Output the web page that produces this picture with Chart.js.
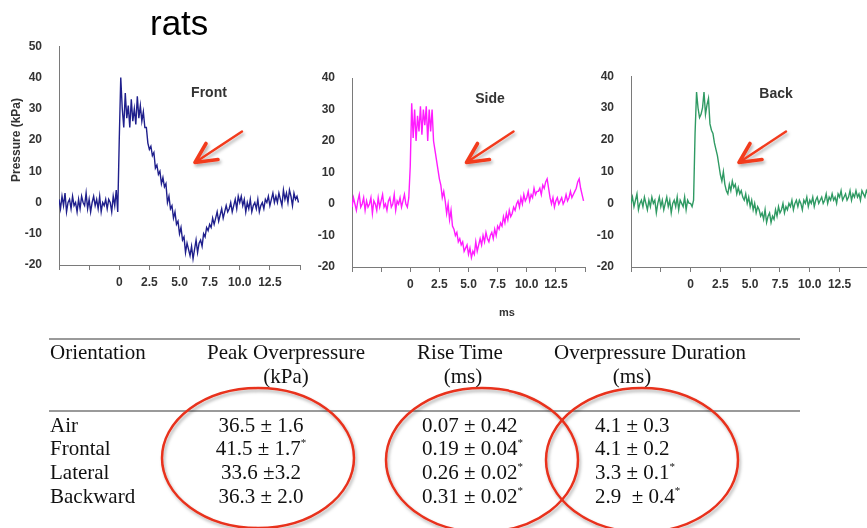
<!DOCTYPE html>
<html>
<head>
<meta charset="utf-8">
<title>rats</title>
<script src="https://cdn.jsdelivr.net/npm/chart.js@4.4.1/dist/chart.umd.min.js"></script>
<style>
  body { margin: 0; background: #fff; }
  #page { position: relative; width: 867px; height: 528px; overflow: hidden; background: #fff; }
  #page canvas { position: absolute; }
  #overlay { position: absolute; left: 0; top: 0; pointer-events: none; }
  #overlay text { white-space: pre; }
</style>
</head>
<body>
<div id="page">
  <canvas id="frontChart" width="310" height="280" style="left:0;top:30px"></canvas>
  <canvas id="sideChart" width="280" height="260" style="left:310px;top:60px"></canvas>
  <canvas id="backChart" width="277" height="240" style="left:590px;top:60px"></canvas>

  <svg id="overlay" width="867" height="528" xmlns="http://www.w3.org/2000/svg">
    <defs>
      <filter id="shade" x="-20%" y="-20%" width="140%" height="140%">
        <feDropShadow dx="1.5" dy="2.5" stdDeviation="1.6" flood-color="#000" flood-opacity="0.3"/>
      </filter>
    </defs>
    <text x="150" y="35" font-family="Liberation Sans, Arial, sans-serif" font-size="35" fill="#000">rats</text>
    <text transform="translate(20,140) rotate(-90)" text-anchor="middle" font-family="Liberation Sans, Arial, sans-serif" font-size="12" font-weight="bold" fill="#333">Pressure (kPa)</text>
    <g font-family="Liberation Sans, Arial, sans-serif" font-size="14" font-weight="bold" fill="#333" text-anchor="middle">
      <text x="209" y="97">Front</text>
      <text x="490" y="103">Side</text>
      <text x="776" y="98">Back</text>
    </g>
    <text x="507" y="316" text-anchor="middle" font-family="Liberation Sans, Arial, sans-serif" font-size="11" font-weight="bold" fill="#333">ms</text>
    <g id="arrows" fill="none" stroke="#f23a1d" stroke-linecap="round" stroke-linejoin="round" filter="url(#shade)"></g>
    <g id="table" font-family="Liberation Serif, Times New Roman, serif" font-size="21" fill="#111"></g>
    <g id="rings" fill="none" stroke="#e8301c" stroke-width="2.5" filter="url(#shade)"></g>
  </svg>
</div>

<script>
// sample times (ms) shared by the three pressure traces, 8 samples per ms
const timeMs = [
  -5, -4.875, -4.75, -4.625, -4.5, -4.375, -4.25, -4.125,
  -4, -3.875, -3.75, -3.625, -3.5, -3.375, -3.25, -3.125,
  -3, -2.875, -2.75, -2.625, -2.5, -2.375, -2.25, -2.125,
  -2, -1.875, -1.75, -1.625, -1.5, -1.375, -1.25, -1.125,
  -1, -0.875, -0.75, -0.625, -0.5, -0.375, -0.25, -0.125,
  0, 0.125, 0.25, 0.375, 0.5, 0.625, 0.75, 0.875,
  1, 1.125, 1.25, 1.375, 1.5, 1.625, 1.75, 1.875,
  2, 2.125, 2.25, 2.375, 2.5, 2.625, 2.75, 2.875,
  3, 3.125, 3.25, 3.375, 3.5, 3.625, 3.75, 3.875,
  4, 4.125, 4.25, 4.375, 4.5, 4.625, 4.75, 4.875,
  5, 5.125, 5.25, 5.375, 5.5, 5.625, 5.75, 5.875,
  6, 6.125, 6.25, 6.375, 6.5, 6.625, 6.75, 6.875,
  7, 7.125, 7.25, 7.375, 7.5, 7.625, 7.75, 7.875,
  8, 8.125, 8.25, 8.375, 8.5, 8.625, 8.75, 8.875,
  9, 9.125, 9.25, 9.375, 9.5, 9.625, 9.75, 9.875,
  10, 10.125, 10.25, 10.375, 10.5, 10.625, 10.75, 10.875,
  11, 11.125, 11.25, 11.375, 11.5, 11.625, 11.75, 11.875,
  12, 12.125, 12.25, 12.375, 12.5, 12.625, 12.75, 12.875,
  13, 13.125, 13.25, 13.375, 13.5, 13.625, 13.75, 13.875,
  14, 14.125, 14.25, 14.375, 14.5, 14.625, 14.75, 14.875];

// pressure (kPa), one row per ms
const frontKPa = [
  1, -2, 2, -1, 3, -3, 0, 1,
  -2, 2, -1, 0, -3, 1, -2, 2,
  0, -1, 3, -2, 1, -3, 0, 2,
  -1, 1, -2, 2, -3, 0, -1, 1,
  -2, 1, 0, -3, 2, -1, 4, -3,
  20, 40, 30, 24, 35, 27, 31, 24,
  33, 26, 30, 25, 34, 27, 31, 26,
  29, 24, 24, 19, 17, 18, 15, 16,
  11, 12, 9, 10, 6, 8, 5, 6,
  0, 2, -2, -1, -5, -3, -7, -6,
  -10, -8, -12, -11, -16, -13, -15, -17,
  -14, -18, -15, -12, -16, -13, -12, -14,
  -10, -11, -8, -9, -7, -8, -5, -7,
  -5, -3, -6, -4, -2, -5, -3, -1,
  -3, -2, 0, -3, -1, 1, -2, 2,
  0, 2, -1, 1, -3, 0, -2, 1,
  -3, -1, 0, -2, 1, -3, -1, 0,
  -2, 1, 0, 2, -1, 1, 3, 0,
  2, 0, 3, 1, -1, 4, 1, 3,
  0, 4, 2, -1, 3, 1, 2, 0];

const sideKPa = [
  -1, 2, 0, -2, 1, 3, -1, 0,
  2, -2, 1, -1, 0, 2, -3, 1,
  0, -2, 2, -1, 1, 3, -1, 0,
  -2, 1, 2, -1, 0, 3, -2, 1,
  0, 2, -1, 1, 3, 0, -1, 2,
  12, 32, 21, 30, 20, 28, 23, 31,
  22, 30, 25, 31, 20, 30, 23, 30,
  20, 17, 14, 11, 8, 6, 2, 4,
  1, -3, 0, -5, -2, -7, -8, -10,
  -9, -12, -11, -13, -12, -15, -14, -13,
  -16, -14, -17, -15, -16, -12, -15, -13,
  -11, -13, -10, -12, -9, -11, -12, -10,
  -9, -11, -8, -10, -7, -8, -6, -7,
  -4, -6, -3, -5, -2, -4, -3, -1,
  -2, 0, 1, -1, 2, 0, 3, 1,
  2, 4, 1, 3, 2, 5, 3, 4,
  4, 5, 3, 6, 5, 7, 8, 5,
  2, 0, 2, -1, 1, 2, 0, 1,
  2, 0, 1, 3, 1, 2, 4, 2,
  3, 4, 5, 7, 8, 5, 3, 1];

const backKPa = [
  0, 2, -1, 1, 3, -2, 0, 1,
  -1, 2, 0, -2, 1, -1, 2, 0,
  1, -3, 0, 2, -1, 1, -2, 0,
  2, -1, 1, -3, 0, 1, -1, 2,
  -2, 1, 0, -1, 2, -2, 1, 0,
  0, -1, 1, 22, 35, 30, 27, 28,
  30, 35, 28, 31, 33, 25, 23, 22,
  19, 17, 15, 12, 9, 7, 10, 6,
  4, 3, 6, 4, 7, 5, 6, 3,
  5, 3, 4, 2, 1, 3, 0, 2,
  -1, 1, -2, 0, -3, -1, -2, -4,
  -3, -5, -2, -6, -4, -3, -6, -4,
  -5, -2, -4, -1, -3, -2, 0, -3,
  -1, -2, 0, -1, 1, -2, 0, 1,
  -1, 1, 0, -2, 1, 0, 2, -1,
  1, 0, 2, -1, 1, 2, 0, 1,
  2, 0, 1, 3, 0, 2, 1, 3,
  1, 2, 0, 3, 2, 4, 1, 2,
  3, 1, 2, 4, 1, 3, 2, 4,
  2, 3, 1, 4, 3, 2, 4, 3];

// summary table
const orientations = ['Air', 'Frontal', 'Lateral', 'Backward'];
const peakOverpressure = ['36.5 \u00b1 1.6', '41.5 \u00b1 1.7', '33.6 \u00b13.2', '36.3 \u00b1 2.0'];
const riseTime = ['0.07 \u00b1 0.42', '0.19 \u00b1 0.04', '0.26 \u00b1 0.02', '0.31 \u00b1 0.02'];
const overpressureDuration = ['4.1 \u00b1 0.3', '4.1 \u00b1 0.2', '3.3 \u00b1 0.1', '2.9  \u00b1 0.4'];
const peakSig = [false, true, false, false];
const riseSig = [false, true, true, true];
const durationSig = [false, false, true, true];

Chart.defaults.font.family = "'Liberation Sans', Arial, sans-serif";
Chart.defaults.color = '#333';

const axisGrey = '#7a7a7a';

function tickLabel(v) {
  if (v < 0 || v > 12.5) return '';
  return v === 0 ? '0' : v.toFixed(1);
}

function drawPanel(id, values, color, opts) {
  const ctx = document.getElementById(id).getContext('2d');
  new Chart(ctx, {
    type: 'line',
    data: {
      datasets: [{
        data: timeMs.map((t, i) => ({ x: t, y: values[i] })),
        borderColor: color,
        borderWidth: 1.4,
        pointRadius: 0,
        tension: 0,
        fill: false
      }]
    },
    options: {
      responsive: false,
      animation: false,
      layout: { padding: opts.padding },
      plugins: {
        legend: { display: false },
        tooltip: { enabled: false }
      },
      scales: {
        x: {
          type: 'linear',
          min: -5,
          max: opts.xMax,
          afterFit: s => { s.height = opts.xHeight; },
          ticks: {
            stepSize: 2.5,
            autoSkip: false,
            includeBounds: false,
            maxRotation: 0,
            padding: 5,
            color: '#333',
            font: { size: 12, weight: 'bold' },
            callback: tickLabel
          },
          grid: { drawOnChartArea: false, tickLength: 5, color: axisGrey },
          border: { color: axisGrey }
        },
        y: {
          min: -20,
          max: opts.yMax,
          afterFit: s => { s.width = opts.yWidth; },
          ticks: {
            stepSize: 10,
            padding: 9,
            color: '#333',
            font: { size: 12, weight: 'bold' }
          },
          grid: { display: false },
          border: { display: true, color: axisGrey }
        }
      }
    }
  });
}

drawPanel('frontChart', frontKPa, '#1f1f8c', {
  xMax: 15, yMax: 50, yWidth: 59, xHeight: 45,
  padding: { left: 0, top: 15, right: 10, bottom: 0 }
});
drawPanel('sideChart', sideKPa, '#ff1cff', {
  xMax: 15, yMax: 40, yWidth: 42, xHeight: 53,
  padding: { left: 0, top: 18, right: 5, bottom: 0 }
});
drawPanel('backChart', backKPa, '#2f9a63', {
  xMax: 14.8, yMax: 40, yWidth: 41, xHeight: 33,
  padding: { left: 0, top: 13, right: 0, bottom: 0 }
});

// overlay: arrows, table and the highlight rings
const SVG = 'http://www.w3.org/2000/svg';
function svgEl(tag, attrs, parent, text) {
  const el = document.createElementNS(SVG, tag);
  for (const k in attrs) el.setAttribute(k, attrs[k]);
  if (text !== undefined) el.textContent = text;
  parent.appendChild(el);
  return el;
}

const arrowTips = [[195, 162.5], [466.5, 162.5], [739, 162.5]];
const arrows = document.getElementById('arrows');
arrowTips.forEach(([x, y]) => {
  svgEl('path', { d: `M${x + 47} ${y - 31} L${x} ${y}`, 'stroke-width': 2.4 }, arrows);
  svgEl('path', { d: `M${x + 11} ${y - 19} L${x} ${y} L${x + 23} ${y - 3}`, 'stroke-width': 3.6 }, arrows);
});

const table = document.getElementById('table');
[339, 411].forEach(y => {
  svgEl('line', { x1: 49, x2: 800, y1: y, y2: y, stroke: '#9a9a9a', 'stroke-width': 2 }, table);
});
svgEl('text', { x: 50, y: 359 }, table, 'Orientation');
svgEl('text', { x: 286, y: 359, 'text-anchor': 'middle' }, table, 'Peak Overpressure');
svgEl('text', { x: 286, y: 383, 'text-anchor': 'middle' }, table, '(kPa)');
svgEl('text', { x: 460, y: 359, 'text-anchor': 'middle' }, table, 'Rise Time');
svgEl('text', { x: 463, y: 383, 'text-anchor': 'middle' }, table, '(ms)');
svgEl('text', { x: 650, y: 359, 'text-anchor': 'middle' }, table, 'Overpressure Duration');
svgEl('text', { x: 632, y: 383, 'text-anchor': 'middle' }, table, '(ms)');

function cell(x, y, anchor, str, sig) {
  const t = svgEl('text', { x: x, y: y, 'text-anchor': anchor }, table, str);
  if (sig) svgEl('tspan', { dy: -9, 'font-size': 11 }, t, '*');
}

const rowY = [431.5, 455, 479, 503];
orientations.forEach((name, i) => {
  const y = rowY[i];
  svgEl('text', { x: 50, y: y }, table, name);
  cell(261, y, 'middle', peakOverpressure[i], peakSig[i]);
  cell(422, y, 'start', riseTime[i], riseSig[i]);
  cell(595, y, 'start', overpressureDuration[i], durationSig[i]);
});

const rings = document.getElementById('rings');
[[258, 458, 96, 70], [482, 460, 96, 72], [642, 460, 96, 72]].forEach(([cx, cy, rx, ry]) => {
  svgEl('ellipse', { cx: cx, cy: cy, rx: rx, ry: ry }, rings);
});
</script>
</body>
</html>
